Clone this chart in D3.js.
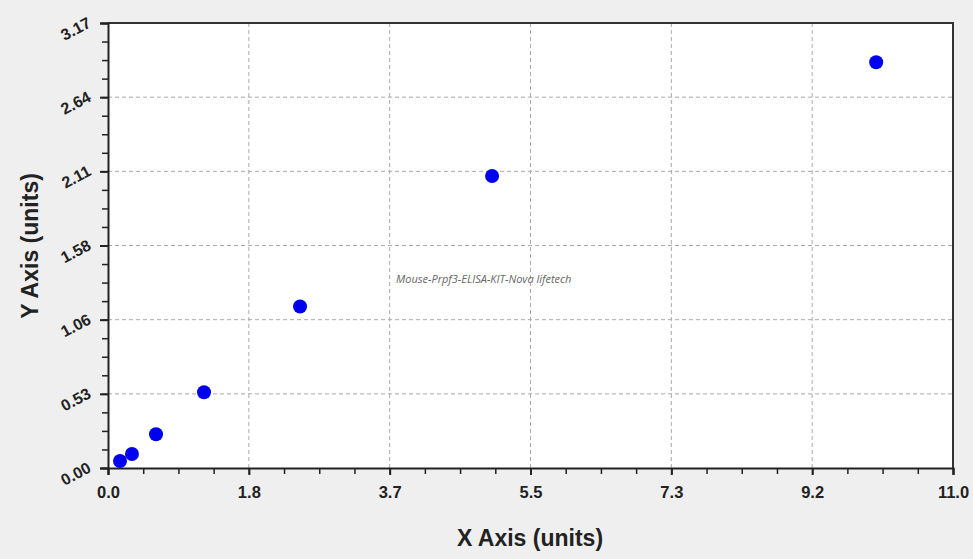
<!DOCTYPE html>
<html>
<head>
<meta charset="utf-8">
<script src="https://cdn.jsdelivr.net/npm/d3@7"></script>
<style>
  html, body { margin: 0; padding: 0; background: #efefef; }
  svg { display: block; }
  .tick text { font-family: "Liberation Sans", Arial, sans-serif; font-weight: bold; fill: #222; }
</style>
</head>
<body>
<div id="chart"></div>
<script>
// standard curve points
const xValues = [0.156, 0.312, 0.625, 1.25, 2.5, 5, 10];
const yValues = [0.05, 0.10, 0.24, 0.54, 1.15, 2.08, 2.89];
const xTicks = [0, 11 / 6, 22 / 6, 33 / 6, 44 / 6, 55 / 6, 11];
const yTicks = [0, 3.17 / 6, 6.34 / 6, 9.51 / 6, 12.68 / 6, 15.85 / 6, 3.17];
const xTickLabels = ["0.0", "1.8", "3.7", "5.5", "7.3", "9.2", "11.0"];
const yTickLabels = ["0.00", "0.53", "1.06", "1.58", "2.11", "2.64", "3.17"];

const width = 973, height = 559;
const plotL = 108, plotT = 23, plotR = 953, plotB = 468;

const svg = d3.select("#chart").append("svg")
    .attr("width", width)
    .attr("height", height);

const x = d3.scaleLinear().domain([0, 11]).range([plotL, plotR]);
const y = d3.scaleLinear().domain([0, 3.17]).range([plotB, plotT]);

svg.append("rect")
    .attr("x", plotL).attr("y", plotT)
    .attr("width", plotR - plotL).attr("height", plotB - plotT)
    .attr("fill", "#fff");

// minor tick positions, 4 steps per major
const xMinor = d3.range(0, 25).map(i => i * 11 / 24);
const yMinor = d3.range(0, 25).map(i => i * 3.17 / 24);

// grid
svg.append("g").selectAll("line")
    .data(xTicks.slice(1, -1))
    .join("line")
    .attr("x1", d => x(d)).attr("x2", d => x(d))
    .attr("y1", plotT).attr("y2", plotB)
    .attr("stroke", "#aaa").attr("stroke-dasharray", "4,3");

svg.append("g").selectAll("line")
    .data(yTicks.slice(1, -1))
    .join("line")
    .attr("x1", plotL).attr("x2", plotR)
    .attr("y1", d => y(d)).attr("y2", d => y(d))
    .attr("stroke", "#aaa").attr("stroke-dasharray", "4,3");

// top and right frame
svg.append("path")
    .attr("d", `M${plotL},${plotT}H${plotR}V${plotB}`)
    .attr("fill", "none").attr("stroke", "#333").attr("stroke-width", 2);

// x axis
svg.append("g")
    .attr("transform", `translate(0,${plotB})`)
    .call(d3.axisBottom(x).tickValues(xMinor).tickSize(6).tickFormat(""))
    .call(g => g.select(".domain").remove())
    .call(g => g.selectAll(".tick line").attr("stroke", "#222").attr("stroke-width", 1.5));

svg.append("g")
    .attr("transform", `translate(0,${plotB})`)
    .call(d3.axisBottom(x).tickValues(xTicks).tickSize(7).tickPadding(11)
        .tickFormat((d, i) => xTickLabels[i]))
    .call(g => g.select(".domain").attr("stroke", "#222").attr("stroke-width", 2))
    .call(g => g.selectAll(".tick line").attr("stroke", "#222").attr("stroke-width", 2))
    .call(g => g.selectAll(".tick text").attr("font-size", 16.5));

// y axis
svg.append("g")
    .attr("transform", `translate(${plotL},0)`)
    .call(d3.axisLeft(y).tickValues(yMinor).tickSize(6).tickFormat(""))
    .call(g => g.select(".domain").remove())
    .call(g => g.selectAll(".tick line").attr("stroke", "#222").attr("stroke-width", 1.5));

svg.append("g")
    .attr("transform", `translate(${plotL},0)`)
    .call(d3.axisLeft(y).tickValues(yTicks).tickSize(8).tickPadding(9)
        .tickFormat((d, i) => yTickLabels[i]))
    .call(g => g.select(".domain").attr("stroke", "#222").attr("stroke-width", 2))
    .call(g => g.selectAll(".tick line").attr("stroke", "#222").attr("stroke-width", 2))
    .call(g => g.selectAll(".tick text")
        .attr("font-size", 16)
        .attr("dy", "0.1em")
        .attr("transform", "rotate(-28,-14,0)"));

// watermark
svg.append("text")
    .attr("x", 396).attr("y", 283)
    .attr("font-family", "'Open Sans', sans-serif")
    .attr("font-style", "italic")
    .attr("font-size", 11)
    .attr("fill", "#666")
    .text("Mouse-Prpf3-ELISA-KIT-Nova lifetech");

// points
svg.append("g").selectAll("circle")
    .data(xValues.map((v, i) => [v, yValues[i]]))
    .join("circle")
    .attr("cx", d => x(d[0]))
    .attr("cy", d => y(d[1]))
    .attr("r", 7)
    .attr("fill", "#0000f0");

// axis titles
svg.append("text")
    .attr("x", 530).attr("y", 546)
    .attr("text-anchor", "middle")
    .attr("font-family", "'Liberation Sans', Arial, sans-serif")
    .attr("font-weight", "bold")
    .attr("font-size", 23)
    .attr("fill", "#222")
    .text("X Axis (units)");

svg.append("text")
    .attr("transform", "translate(38,246) rotate(-90)")
    .attr("text-anchor", "middle")
    .attr("font-family", "'Liberation Sans', Arial, sans-serif")
    .attr("font-weight", "bold")
    .attr("font-size", 23)
    .attr("fill", "#222")
    .text("Y Axis (units)");
</script>
</body>
</html>
